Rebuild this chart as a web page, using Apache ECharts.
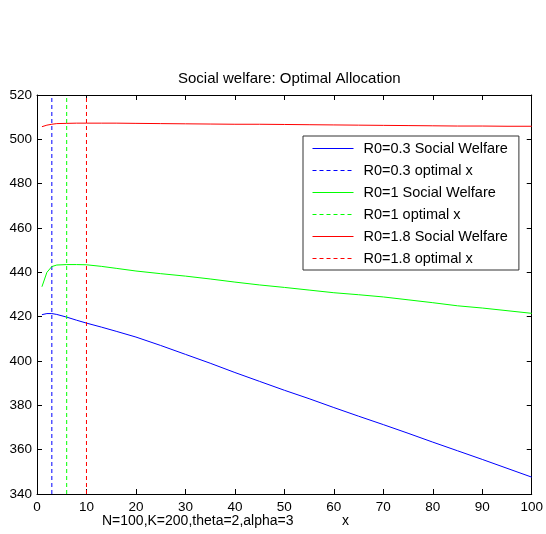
<!DOCTYPE html>
<html>
<head>
<meta charset="utf-8">
<script src="https://cdn.jsdelivr.net/npm/echarts@6/dist/echarts.min.js"></script>
<style>
html,body{margin:0;padding:0;background:#fff;}
#chart{width:546px;height:534px;}
</style>
</head>
<body>
<div id="chart"></div>
<script>
// x positions where the curves were read
var xValues = [1, 2, 3, 4, 6, 8, 10, 13, 16, 20, 25, 30, 35, 40, 45, 50, 55, 60, 65, 70, 75, 80, 85, 90, 95, 100];
// R0 = 0.3 social welfare
var welfareR03 = [420.9, 421.4, 421.4, 421.0, 419.8, 418.4, 417.1, 415.3, 413.4, 410.8, 407.0, 403.0, 399.0, 394.8, 390.8, 386.8, 383.0, 379.0, 375.1, 371.3, 367.4, 363.4, 359.5, 355.6, 351.6, 347.6];
// R0 = 1 social welfare
var welfareR1 = [433.5, 440.0, 442.6, 443.3, 443.5, 443.5, 443.4, 442.7, 441.8, 440.6, 439.4, 438.3, 437.0, 435.6, 434.3, 433.2, 432.0, 430.8, 429.9, 428.9, 427.6, 426.3, 424.9, 423.9, 422.7, 421.5];
// R0 = 1.8 social welfare
var welfareR18 = [505.7, 506.4, 506.8, 507.1, 507.2, 507.3, 507.3, 507.3, 507.3, 507.2, 507.1, 507.0, 506.9, 506.8, 506.8, 506.7, 506.6, 506.5, 506.4, 506.3, 506.2, 506.1, 506.0, 506.0, 505.9, 505.9];
// optimal x for each R0
var optimalX = [3, 6, 10];
var seriesNames = ['R0=0.3 Social Welfare', 'R0=0.3 optimal x', 'R0=1 Social Welfare', 'R0=1 optimal x', 'R0=1.8 Social Welfare', 'R0=1.8 optimal x'];
var colors = ['#0000ff', '#00ff00', '#ff0000'];
var xTicks = [0, 10, 20, 30, 40, 50, 60, 70, 80, 90, 100];
var yTicks = [340, 360, 380, 400, 420, 440, 460, 480, 500, 520];
var titleText = 'Social welfare: Optimal Allocation';
var xLabelText = 'N=100,K=200,theta=2,alpha=3';
var xLabelName = 'x';

var yMin = yTicks[0], yMax = yTicks[yTicks.length - 1];
var xMin = xTicks[0], xMax = xTicks[xTicks.length - 1];
var font = 'Arial, "Liberation Sans", Helvetica, sans-serif';

function pairs(ys) { return xValues.map(function (x, i) { return [x, ys[i]]; }); }
var curves = [welfareR03, welfareR1, welfareR18];

var series = [];
for (var k = 0; k < 3; k++) {
  series.push({
    name: seriesNames[2 * k], type: 'line', data: pairs(curves[k]), showSymbol: false, symbol: 'none',
    lineStyle: { color: colors[k], width: 1 }, itemStyle: { color: colors[k] }, animation: false
  });
  series.push({
    name: seriesNames[2 * k + 1], type: 'line', data: [[optimalX[k], yMin], [optimalX[k], yMax]], showSymbol: false, symbol: 'none',
    lineStyle: { color: colors[k], width: 1, type: [4, 3] }, itemStyle: { color: colors[k] }, animation: false
  });
}

var axisCommon = {
  axisLine: { show: true, onZero: false, lineStyle: { color: '#000', width: 1 } },
  axisTick: { show: true, inside: true, length: 5, lineStyle: { color: '#000' } },
  splitLine: { show: false }
};

var chart = echarts.init(document.getElementById('chart'), null, { renderer: 'canvas' });
chart.setOption({
  animation: false,
  backgroundColor: '#fff',
  title: {
    text: titleText, left: 173, top: 66,
    textStyle: { fontFamily: font, fontSize: 15, fontWeight: 'normal', color: '#000' }
  },
  grid: { left: 37, right: 12, top: 95, bottom: 40, containLabel: false },
  legend: {
    data: seriesNames, orient: 'vertical', left: 303, top: 136,
    padding: [5, 11, 4, 9], itemWidth: 41, itemHeight: 15, itemGap: 7,
    backgroundColor: '#fff', borderColor: '#333', borderWidth: 1,
    itemStyle: { opacity: 0 },
    lineStyle: { width: 1 },
    textStyle: { fontFamily: font, fontSize: 14.5, color: '#000', padding: [0, 0, 0, 5] },
    selectedMode: false
  },
  xAxis: [
    Object.assign({ type: 'value', min: xMin, max: xMax, interval: 10, position: 'bottom',
      axisLabel: { fontFamily: font, fontSize: 13.5, color: '#000', margin: 6 } }, axisCommon),
    Object.assign({ type: 'value', min: xMin, max: xMax, interval: 10, position: 'top',
      axisLabel: { show: false } }, axisCommon)
  ],
  yAxis: [
    Object.assign({ type: 'value', min: yMin, max: yMax, interval: 20, position: 'left',
      axisLabel: { fontFamily: font, fontSize: 13.5, color: '#000', margin: 5 } }, axisCommon),
    Object.assign({ type: 'value', min: yMin, max: yMax, interval: 20, position: 'right',
      axisLabel: { show: false } }, axisCommon)
  ],
  graphic: [
    { type: 'text', left: 102, top: 514, style: { text: xLabelText, font: '14px ' + font, fill: '#000' } },
    { type: 'text', left: 342, top: 514, style: { text: xLabelName, font: '14px ' + font, fill: '#000' } }
  ],
  series: series
});
</script>
</body>
</html>
